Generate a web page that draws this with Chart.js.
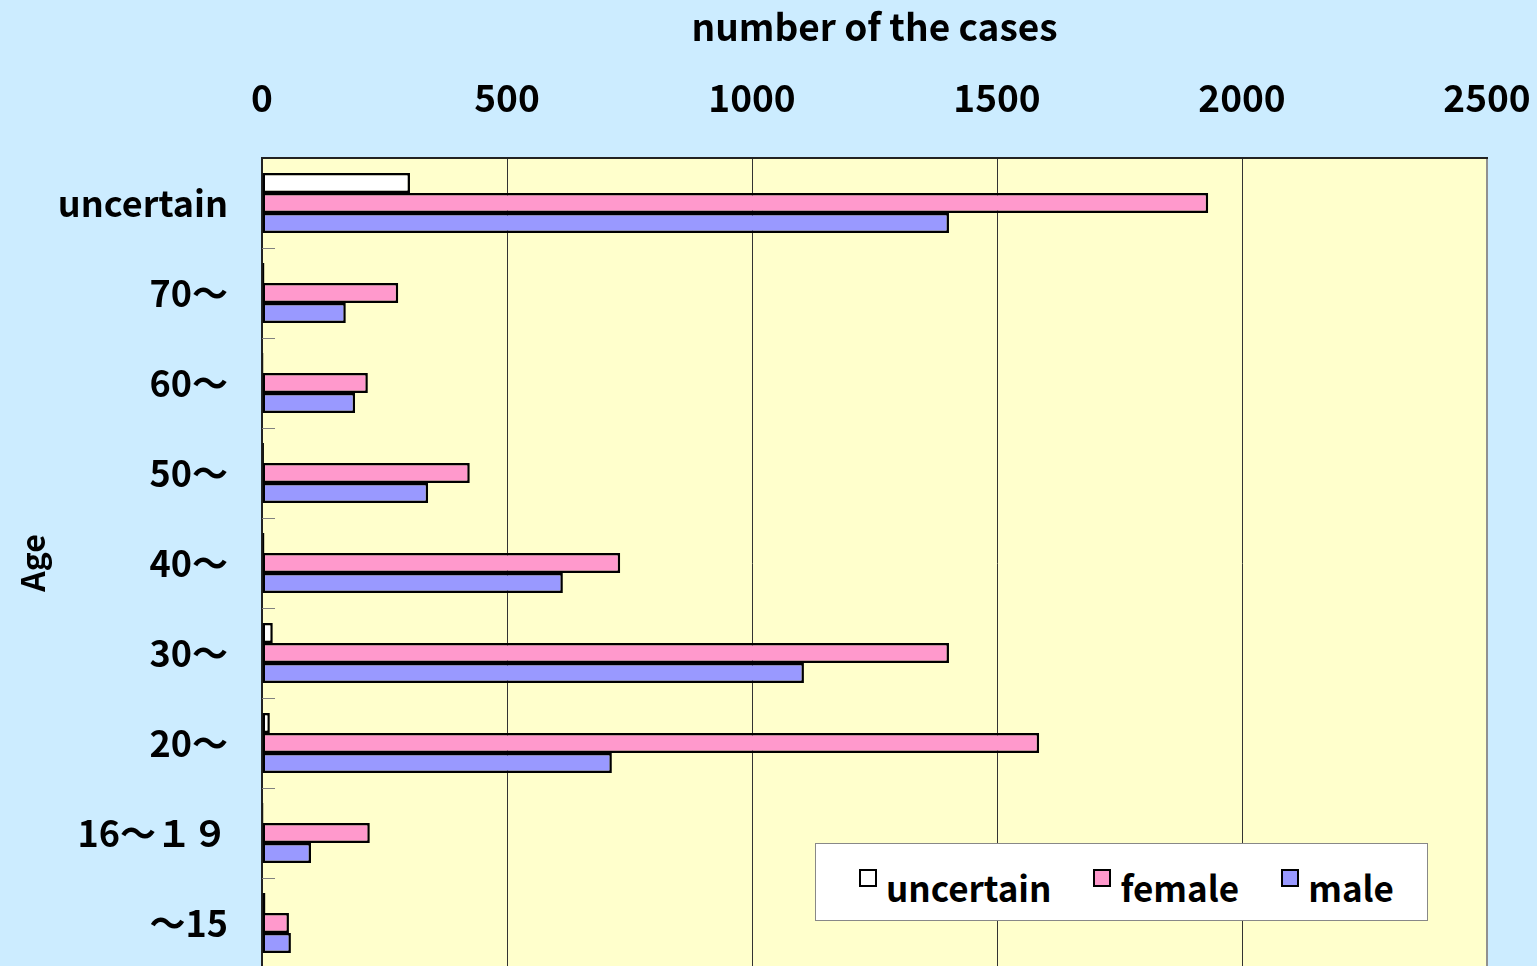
<!DOCTYPE html>
<html>
<head>
<meta charset="utf-8">
<script src="https://cdn.jsdelivr.net/npm/chart.js@4/dist/chart.umd.min.js"></script>
<style>
  html, body { margin: 0; padding: 0; overflow: hidden; background: #CCECFF; }
  #wrap { position: relative; width: 1537px; height: 966px; }
  #ageChart { display: block; }
  #legend {
    position: absolute; left: 815px; top: 843px; width: 613px; height: 78px;
    background: #fff; border: 1px solid #888; box-sizing: border-box;
    font-family: "Noto Sans CJK JP", "Noto Sans", sans-serif; font-size: 35px; font-weight: bold;
    display: flex; align-items: center; padding-left: 43px; padding-top: 8px;
  }
  #legend .item { display: flex; align-items: center; margin-right: 42px; }
  #legend .box { width: 14px; height: 14px; border: 2px solid #000; margin-right: 9px; margin-top: -16px; }
</style>
</head>
<body>
<div id="wrap">
  <canvas id="ageChart" width="1537" height="970"></canvas>
  <div id="legend"></div>
</div>
<script>
// Age groups, top to bottom
const ageGroups = ['uncertain', '70〜', '60〜', '50〜', '40〜', '30〜', '20〜', '16〜１９', '〜15'];

// Number of cases per group
const uncertainCases = [302, 5, 3, 4, 5, 22, 16, 3, 7];
const femaleCases = [1931, 278, 216, 424, 731, 1402, 1586, 220, 55];
const maleCases = [1402, 171, 190, 339, 614, 1106, 714, 100, 59];

const xTicks = [0, 500, 1000, 1500, 2000, 2500];

const seriesColors = {
    uncertain: '#FFFFFF',
    female: '#FF99CC',
    male: '#9999FF'
};

const fontFamily = '"Noto Sans CJK JP", "Noto Sans", sans-serif';

// Plot background and the small group ticks
const plotBackground = {
    id: 'plotBackground',
    beforeDraw(chart) {
        const { ctx, chartArea: a } = chart;
        ctx.save();
        ctx.fillStyle = '#FFFFCC';
        ctx.fillRect(a.left, a.top, a.right - a.left, a.bottom - a.top);
        ctx.restore();
    },
    afterDraw(chart) {
        const { ctx, chartArea: a } = chart;
        const yScale = chart.scales.y;
        ctx.save();
        ctx.strokeStyle = '#808080';
        ctx.lineWidth = 1;
        const band = yScale.getPixelForValue(1) - yScale.getPixelForValue(0);
        for (let i = 0; i < ageGroups.length; i++) {
            const y = Math.round(yScale.getPixelForValue(i) + band / 2) + 0.5;
            ctx.beginPath();
            ctx.moveTo(a.left, y);
            ctx.lineTo(a.left + 13, y);
            ctx.stroke();
        }
        ctx.restore();
    }
};

const ctx = document.getElementById('ageChart');
const chart = new Chart(ctx, {
    type: 'bar',
    data: {
        labels: ageGroups,
        datasets: [
            { label: 'uncertain', data: uncertainCases, backgroundColor: seriesColors.uncertain },
            { label: 'female', data: femaleCases, backgroundColor: seriesColors.female },
            { label: 'male', data: maleCases, backgroundColor: seriesColors.male }
        ]
    },
    options: {
        indexAxis: 'y',
        responsive: false,
        animation: false,
        layout: { autoPadding: false, padding: { left: 0, right: 50, top: 0, bottom: 2 } },
        datasets: {
            bar: {
                borderColor: '#000',
                borderWidth: 2.5,
                borderSkipped: false,
                categoryPercentage: 2 / 3,
                barPercentage: 1
            }
        },
        plugins: {
            legend: { display: false },
            tooltip: { enabled: false }
        },
        scales: {
            x: {
                position: 'top',
                min: 0,
                max: 2500,
                afterBuildTicks: s => { s.ticks = xTicks.map(v => ({ value: v })); },
                afterFit: s => {
                    s.height = 158;
                    s.paddingLeft = 0;
                    s.paddingRight = 0;
                },
                ticks: {
                    color: '#000',
                    padding: 38,
                    maxRotation: 0,
                    callback: v => String(v),
                    font: { family: fontFamily, size: 37, weight: 'bold' }
                },
                grid: {
                    drawTicks: false,
                    color: c => c.tick && c.tick.value === 2500 ? '#909090' : '#333',
                    lineWidth: c => c.tick && c.tick.value === 2500 ? 2 : 1
                },
                border: { color: '#222', width: 2 },
                title: {
                    display: true,
                    text: 'number of the cases',
                    color: '#000',
                    padding: { top: 5, bottom: 0 },
                    font: { family: fontFamily, size: 37, weight: 'bold' }
                }
            },
            y: {
                afterFit: s => {
                    s.width = 262;
                    s.paddingTop = 0;
                    s.paddingBottom = 0;
                },
                ticks: {
                    color: '#000',
                    padding: 34,
                    font: { family: fontFamily, size: 36, weight: 'bold' }
                },
                grid: { display: false, drawTicks: false },
                border: { color: '#222', width: 2 },
                title: {
                    display: true,
                    text: 'Age',
                    color: '#000',
                    padding: { top: 14, bottom: 0 },
                    font: { family: fontFamily, size: 32, weight: 'bold' }
                }
            }
        }
    },
    plugins: [plotBackground]
});

// HTML legend built from the datasets
const legendEl = document.getElementById('legend');
chart.data.datasets.forEach(ds => {
    const item = document.createElement('div');
    item.className = 'item';
    const box = document.createElement('span');
    box.className = 'box';
    box.style.background = ds.backgroundColor;
    const text = document.createElement('span');
    text.textContent = ds.label;
    item.appendChild(box);
    item.appendChild(text);
    legendEl.appendChild(item);
});
</script>
</body>
</html>
